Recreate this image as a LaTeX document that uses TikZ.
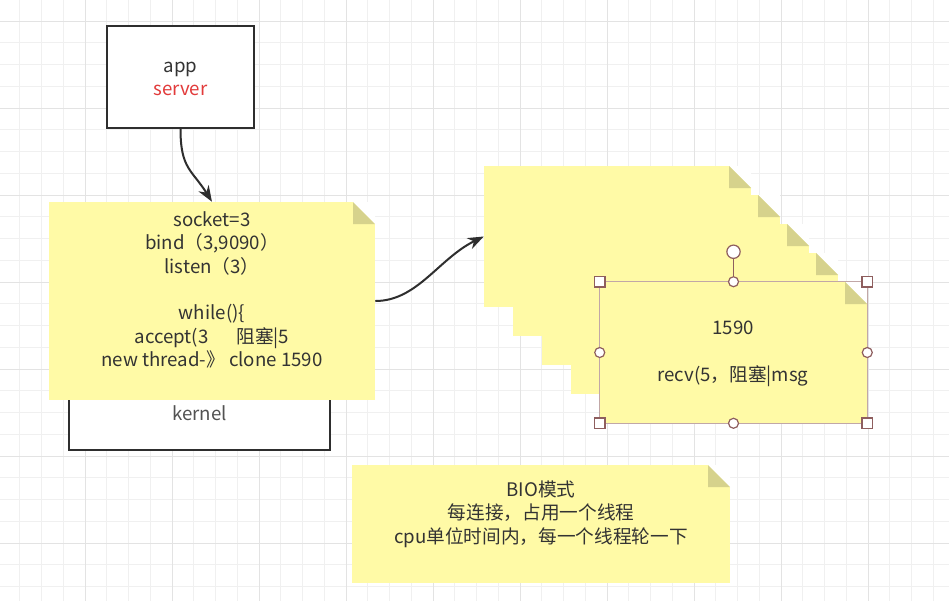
\documentclass[tikz,border=0pt]{standalone}
\usepackage{fontspec}
\setmainfont{Noto Sans CJK SC}
\usepackage{tikz}
\usetikzlibrary{arrows.meta,fit,calc}
\usepackage{xcolor}
\definecolor{gridminor}{HTML}{F0F0F0}
\definecolor{gridmajor}{HTML}{E3E3E3}
\definecolor{boxline}{HTML}{2E2E2E}
\definecolor{inkgray}{HTML}{333333}
\definecolor{notefill}{HTML}{FFFAA6}
\definecolor{notefold}{HTML}{D6D28C}
\definecolor{serverred}{HTML}{E23B3B}
\definecolor{handle}{HTML}{8E5E5E}
\newcommand\notefont{\fontsize{14}{17.5}\selectfont}

\begin{document}
\begin{tikzpicture}[x=0.75pt, y=-0.75pt, >={Stealth[length=12pt,width=9pt]},
  plainbox/.style={draw=boxline, line width=1.5pt, fill=white, inner sep=0pt},
  note/.style={rectangle, fill=notefill, inner sep=0pt,
    path picture={
      \fill[white]
        ([xshift=-16.5pt]path picture bounding box.north east) --
        (path picture bounding box.north east) --
        ([yshift=-16.5pt]path picture bounding box.north east) -- cycle;
      \fill[notefold]
        ([xshift=-16.5pt]path picture bounding box.north east) --
        ([yshift=-16.5pt]path picture bounding box.north east) --
        ([xshift=-16.5pt,yshift=-16.5pt]path picture bounding box.north east) -- cycle;}},
  notetext/.style={align=center, text=inkgray, font=\notefont, inner sep=0pt},
  flow/.style={->, line width=1.5pt, draw=boxline},
  sizehandle/.style={draw=handle, fill=white, line width=0.9pt, minimum size=8pt, inner sep=0pt},
  midhandle/.style={circle, draw=handle, fill=white, line width=0.9pt, minimum size=7.5pt, inner sep=0pt}]

  % Canvas and grid
  \fill[white] (0,0) rectangle (949,601);
  \useasboundingbox (0,0) rectangle (949,601);
  \foreach \i in {0,...,44} \draw[gridminor, line width=0.75pt] ({-2+21.75*\i},0) -- ({-2+21.75*\i},601);
  \foreach \j in {0,...,28} \draw[gridminor, line width=0.75pt] (0,{-0.75+21.75*\j}) -- (949,{-0.75+21.75*\j});
  \foreach \i in {0,...,11} \draw[gridmajor, line width=0.75pt] ({-2+87*\i},0) -- ({-2+87*\i},601);
  \foreach \j in {0,...,6} \draw[gridmajor, line width=0.75pt] (0,{21+87*\j}) -- (949,{21+87*\j});

  % App and kernel
  \node[plainbox, fit={(107,26) (254,128)}] (app) {};
  \node[notetext] (applabel) at (180.5,79) {app\\\textcolor{serverred}{server}};
  \node[plainbox, fit={(69,376) (330,450)}] (kernel) {};
  \node[notetext, text=inkgray!85] (kernellabel) at (199.5,413) {kernel};

  % Main thread note
  \node[note, fit={(49,202) (375,400)}] (listener) {};
  \node[notetext] (listencode) at (212,290)
    {socket=3\\bind（3,9090）\\listen（3）\\\mbox{}\\while()\{\\accept(3\hspace{1.5em}阻塞|5\\new thread-》 clone 1590};

  % Thread notes
  \foreach \i in {0,...,3}
    \node[note, fit={({484+29*\i},{166+29*\i}) ({751+29*\i},{307+29*\i})}] (copy\i) {};
  \node[note, fit={(600,282) (867,423)}] (thread) {};
  \node[notetext] (threadtext) at (733,354) {1590\\\mbox{}\\recv(5，阻塞|msg};

  % Selection
  \draw[handle!55, line width=0.75pt] (thread.north west) rectangle (thread.south east);
  \node[midhandle, minimum size=10pt] (rot) at ($(thread.north)+(0,-30)$) {};
  \draw[handle, line width=0.9pt] (rot) -- (thread.north);
  \node[sizehandle] (hnw) at (thread.north west) {};
  \node[sizehandle] (hne) at (thread.north east) {};
  \node[sizehandle] (hsw) at (thread.south west) {};
  \node[sizehandle] (hse) at (thread.south east) {};
  \foreach \a in {north,south,east,west}
    \node[midhandle] (h\a) at (thread.\a) {};

  % BIO note
  \node[note, fit={(352,465) (730,583)}] (bio) {};
  \node[notetext] (biotext) at (541,514)
    {BIO模式\\每连接，占用一个线程\\cpu单位时间内，每一个线程轮一下};

  % Arrows
  \draw[flow] (app.south) .. controls +(0,40) and +(-20,-32) .. (listener.north);
  \draw[flow] (listener.east) .. controls +(42,0) and +(-45,22) .. (copy0.west);
\end{tikzpicture}
\end{document}
